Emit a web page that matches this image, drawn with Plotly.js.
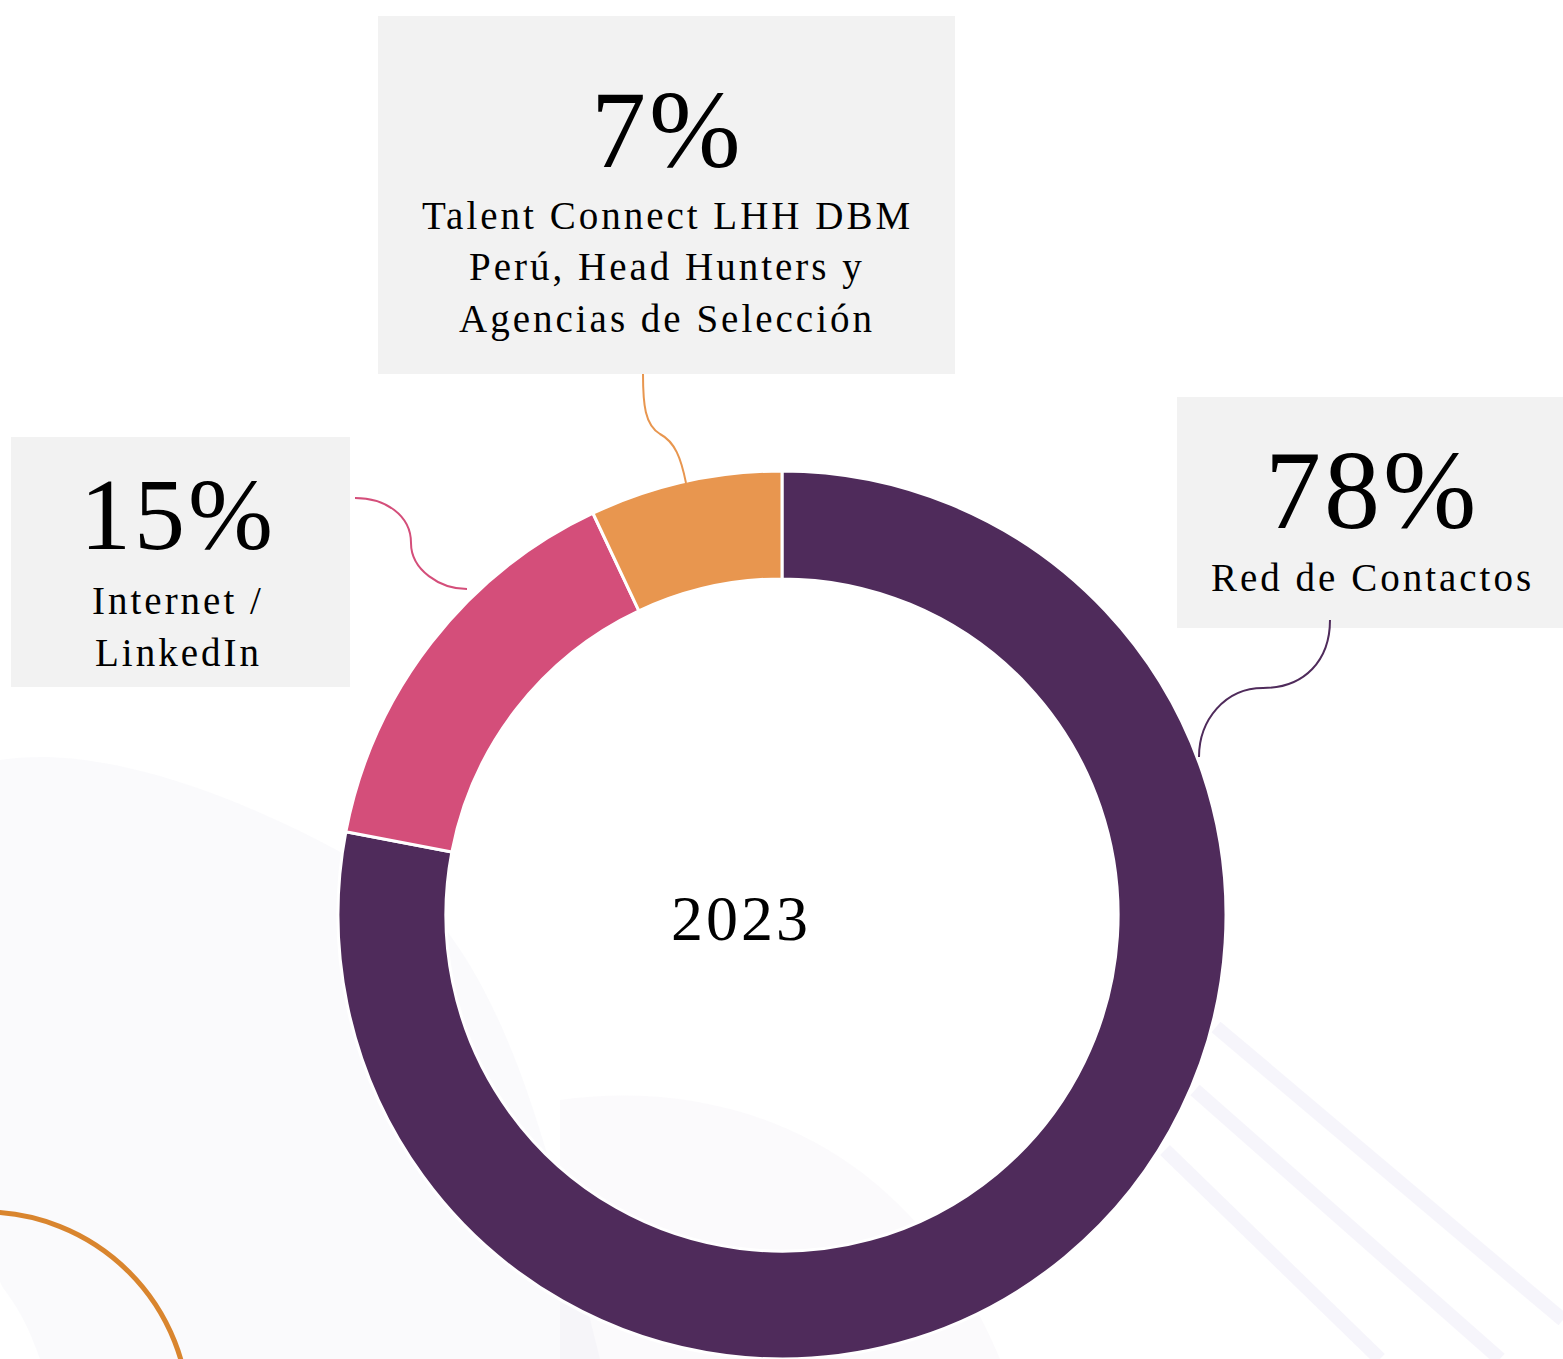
<!DOCTYPE html>
<html>
<head>
<meta charset="utf-8">
<script src="https://cdn.plot.ly/plotly-3.0.1.min.js"></script>
<style>
html,body{margin:0;padding:0;background:#fff;}
#chart{width:1563px;height:1359px;}
.annotation-text{letter-spacing:3px;}
</style>
</head>
<body>
<div id="chart"></div>
<script>
// ---- data ----
const categories = ['Red de Contactos', 'Internet / LinkedIn', 'Talent Connect LHH DBM Perú, Head Hunters y Agencias de Selección'];
const values = [78, 15, 7];
const labelLines = [
  ['Red de Contactos'],
  ['Internet /', 'LinkedIn'],
  ['Talent Connect LHH DBM', 'Perú, Head Hunters y', 'Agencias de Selección']
];
const colors = ['#4F2B5B', '#D44E7A', '#E8964F'];
const centerLabel = '2023';

// ---- layout helpers (positions in pixel space of the page) ----
const W = 1563, H = 1359;
const FONT = '"Liberation Serif", "DejaVu Serif", serif';
const boxes = [
  {x0: 1177, x1: 1563, y0: 397, y1: 628, pctY: 490, lineY: [577], pctSize: 112, cx: 1372},
  {x0: 11, x1: 350, y0: 437, y1: 687, pctY: 514, lineY: [600, 652], pctSize: 102, cx: 178},
  {x0: 378, x1: 955, y0: 16, y1: 374, pctY: 130, lineY: [215, 267, 319], pctSize: 110, cx: 667}
];
const connectors = [
  'M1330,620 C1330,660 1305,688 1263,688 C1225,688 1199,720 1199,757',
  'M355,498 C385,498 411,515 411,543 C411,570 440,589 467,589',
  'M643,374 C643,405 645,425 660,434 C675,442 681,458 686,483'
];

const shapes = [];
const annotations = [];

// background texture (very faint)
shapes.push({type:'path', xref:'x', yref:'y', layer:'below',
  path:'M0,760 C120,740 300,820 420,900 C520,1000 560,1200 600,1359 L40,1359 C20,1300 0,1290 0,1280 Z',
  fillcolor:'rgba(225,222,236,0.16)', line:{width:0}});
shapes.push({type:'path', xref:'x', yref:'y', layer:'below',
  path:'M560,1100 C700,1080 900,1120 1000,1359 L560,1359 Z',
  fillcolor:'rgba(225,222,236,0.14)', line:{width:0}});
[[1216,1027,1563,1320],[1195,1090,1500,1359],[1165,1150,1380,1359]].forEach(s=>{
  shapes.push({type:'line', xref:'x', yref:'y', layer:'below', x0:s[0], y0:s[1], x1:s[2], y1:s[3],
    line:{color:'rgba(215,210,235,0.22)', width:14}});
});
// orange decorative arc bottom-left
shapes.push({type:'circle', xref:'x', yref:'y', layer:'below', x0:-221, x1:189, y0:1212, y1:1622,
  line:{color:'#D9852E', width:5}, fillcolor:'rgba(0,0,0,0)'});

values.forEach((v, i) => {
  const b = boxes[i];
  shapes.push({type:'rect', xref:'x', yref:'y', layer:'below', x0:b.x0, x1:b.x1, y0:b.y0, y1:b.y1,
    fillcolor:'#F2F2F2', line:{width:0}});
  shapes.push({type:'path', xref:'x', yref:'y', layer:'above', path:connectors[i],
    line:{color:colors[i], width:2}});
  annotations.push({xref:'x', yref:'y', x:b.cx, y:b.pctY, text: v + '%', showarrow:false,
    xanchor:'center', yanchor:'middle', font:{family:FONT, size:b.pctSize, color:'#000'}});
  labelLines[i].forEach((ln, j) => {
    annotations.push({xref:'x', yref:'y', x:b.cx, y:b.lineY[j], text: ln, showarrow:false,
      xanchor:'center', yanchor:'middle', font:{family:FONT, size:39, color:'#000'}});
  });
});
annotations.push({xref:'x', yref:'y', x:741, y:918, text:centerLabel, showarrow:false,
  xanchor:'center', yanchor:'middle', font:{family:FONT, size:64, color:'#000'}});

const traces = [
  {type:'scatter', x:[], y:[], hoverinfo:'skip', showlegend:false},
  {type:'pie', labels:categories, values:values, sort:false, direction:'clockwise', rotation:0,
   hole:0.757, marker:{colors:colors, line:{color:'#ffffff', width:3}},
   textinfo:'none', hoverinfo:'label+percent', showlegend:false,
   domain:{x:[338/W, 1226/W], y:[0, 1 - 471/H]}}
];

const layout = {
  width: W, height: H,
  margin:{l:0, r:0, t:0, b:0, pad:0},
  paper_bgcolor:'#ffffff', plot_bgcolor:'rgba(0,0,0,0)',
  xaxis:{range:[0, W], visible:false, fixedrange:true},
  yaxis:{range:[H, 0], visible:false, fixedrange:true},
  showlegend:false,
  shapes: shapes,
  annotations: annotations
};

Plotly.newPlot('chart', traces, layout, {displayModeBar:false, staticPlot:true});
</script>
</body>
</html>
